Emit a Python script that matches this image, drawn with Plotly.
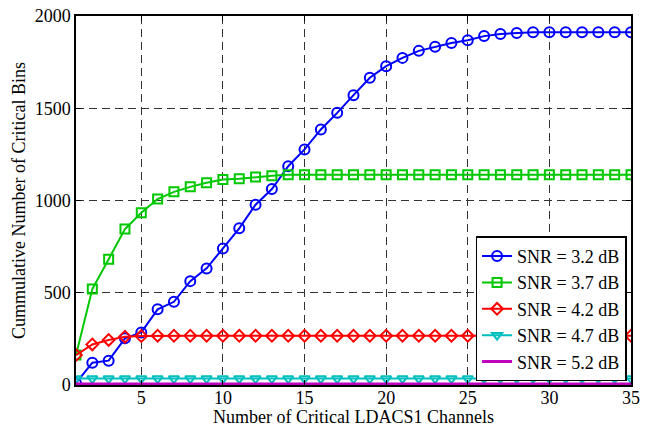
import plotly.graph_objects as go

x = list(range(1, 36))
snr32 = [10, 121, 132, 253, 285, 410, 451, 563, 632, 740, 849, 977, 1062, 1186, 1277, 1385, 1475,
         1571, 1665, 1728, 1773, 1811, 1833, 1854, 1869, 1891, 1903, 1908, 1912, 1912, 1912, 1912, 1912, 1912, 1912]
snr37 = [162, 520, 682, 845, 933, 1008, 1047, 1074, 1096, 1114, 1118, 1127, 1134] + [1139] * 22
snr42 = [162, 220, 244, 262, 265] + [267] * 30
snr47 = [35] * 35
snr52 = [5] * 35

names = ["SNR = 3.2 dB", "SNR = 3.7 dB", "SNR = 4.2 dB", "SNR = 4.7 dB", "SNR = 5.2 dB"]
colors = ["#0000ff", "#00c800", "#ff0000", "#00bfbf", "#bf00bf"]
symbols = ["circle-open", "square-open", "diamond-open", "triangle-down-open", None]
series = [snr32, snr37, snr42, snr47, snr52]

fig = go.Figure()
for name, col, sym, ys in zip(names, colors, symbols, series):
    if sym:
        fig.add_trace(go.Scatter(x=x, y=ys, name=name, mode="lines+markers",
                                 line=dict(color=col, width=2),
                                 marker=dict(symbol=sym, size=10 if sym == "circle-open" else 9,
                                             color=col, line=dict(color=col, width=2))))
    else:
        fig.add_trace(go.Scatter(x=x, y=ys, name=name, mode="lines",
                                 line=dict(color=col, width=3)))

fam = "Liberation Serif, Times New Roman, serif"
font = dict(family=fam, size=18, color="black")
axis_common = dict(showline=True, linecolor="black", linewidth=1.5, mirror="ticks",
                   ticks="inside", ticklen=5, tickcolor="black",
                   showgrid=True, gridcolor="#333333", griddash="8px,5px", gridwidth=1,
                   zeroline=False, tickfont=font, automargin=False)
fig.update_xaxes(range=[1, 35], tickvals=[5, 10, 15, 20, 25, 30, 35],
                 ticklabelstandoff=-4,
                 title=dict(text="Number of Critical LDACS1 Channels", font=font, standoff=0),
                 **axis_common)
fig.update_yaxes(range=[0, 2000], tickvals=[0, 500, 1000, 1500, 2000],
                 title=dict(text="Cummulative Number of Critical Bins", font=font, standoff=4),
                 **axis_common)
fig.update_layout(width=653, height=427, margin=dict(l=76, r=22, t=16, b=42),
                  paper_bgcolor="white", plot_bgcolor="white", font=font,
                  legend=dict(x=0.992, y=0.01, xanchor="right", yanchor="bottom",
                              bgcolor="white", bordercolor="black", borderwidth=1.5,
                              font=dict(family=fam, size=18),
                              tracegroupgap=0, itemwidth=30),
                  showlegend=True)
fig.write_html("out.html")
